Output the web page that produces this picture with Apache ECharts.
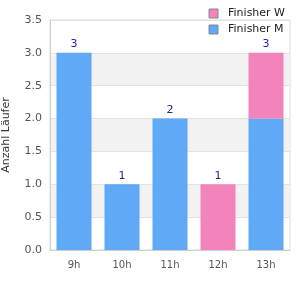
<!DOCTYPE html>
<html>
<head>
<meta charset="utf-8">
<script src="https://cdn.jsdelivr.net/npm/echarts@6/dist/echarts.min.js"></script>
<style>
  html, body { margin: 0; padding: 0; background: #fff; }
  #chart { width: 300px; height: 300px; }
</style>
</head>
<body>
<div id="chart"></div>
<script>
  // Daten
  const categories = ["9h", "10h", "11h", "12h", "13h"];
  const finisherM = [3, 1, 2, 0, 2];
  const finisherW = [0, 0, 0, 1, 1];
  const totals = categories.map((_, i) => finisherM[i] + finisherW[i]);

  const FONT = "DejaVu Sans";
  const chart = echarts.init(document.getElementById("chart"), null, { renderer: "canvas" });

  chart.setOption({
    animation: false,
    textStyle: { fontFamily: FONT },
    grid: {
      left: 50, right: 10, top: 20, bottom: 50,
      outerBoundsMode: "none",
      show: true, borderColor: "#dcdcdc", borderWidth: 1, backgroundColor: "transparent"
    },
    legend: {
      orient: "vertical",
      right: 10, top: 3,
      itemWidth: 9, itemHeight: 9, itemGap: 5,
      icon: "rect",
      itemStyle: { borderColor: "#888", borderWidth: 1 },
      textStyle: { fontFamily: FONT, fontSize: 11, color: "#222", padding: [0, 0, 0, 5] },
      data: ["Finisher W", "Finisher M"]
    },
    xAxis: {
      type: "category",
      data: categories,
      axisLine: { lineStyle: { color: "#cfcfcf" } },
      axisTick: { show: false },
      axisLabel: { color: "#555", fontSize: 10, margin: 10 }
    },
    yAxis: {
      type: "value",
      min: 0, max: 3.5, interval: 0.5,
      name: "Anzahl Läufer",
      nameLocation: "middle",
      nameGap: 38,
      nameTextStyle: { color: "#333", fontSize: 11 },
      axisLine: { show: true, lineStyle: { color: "#cfcfcf" } },
      axisTick: { show: false },
      axisLabel: { color: "#555", fontSize: 11, formatter: (v) => v.toFixed(1) },
      splitLine: { lineStyle: { color: "#e2e2e2" } },
      splitArea: { show: true, areaStyle: { color: ["rgba(255,255,255,0)", "#f2f2f2"] } }
    },
    series: [
      {
        name: "Finisher M",
        type: "bar",
        stack: "all",
        barWidth: "73%",
        data: finisherM,
        itemStyle: { color: "#60a9f6" }
      },
      {
        name: "Finisher W",
        type: "bar",
        stack: "all",
        barWidth: "73%",
        data: finisherW,
        itemStyle: { color: "#f383bb" },
        label: {
          show: true,
          position: "top",
          distance: 3,
          color: "#1f1f99",
          fontSize: 11,
          formatter: (p) => totals[p.dataIndex]
        }
      }
    ]
  });
</script>
</body>
</html>
